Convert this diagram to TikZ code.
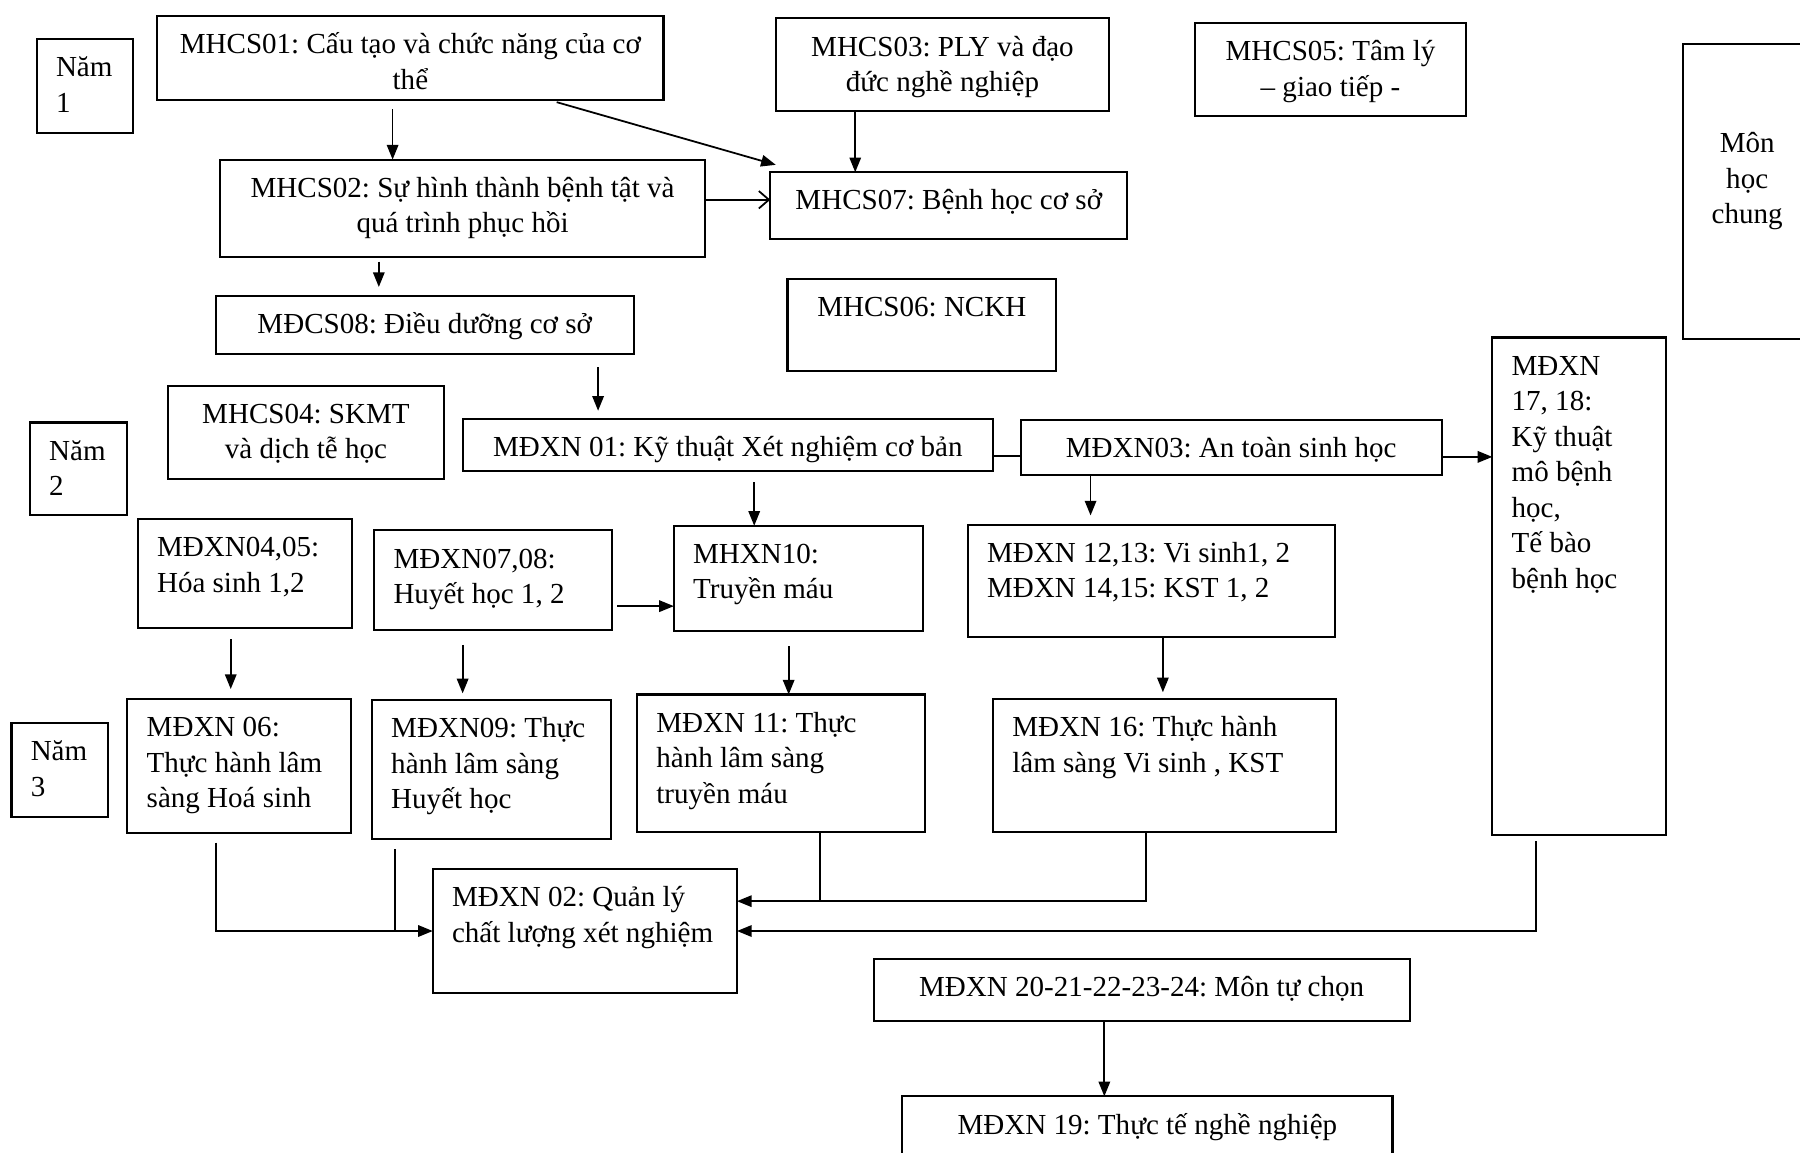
\documentclass[tikz,border=0pt]{standalone}
\usepackage{fontspec}
\setmainfont{Liberation Serif}
\usetikzlibrary{arrows.meta,positioning,calc}
\frenchspacing

% text inside a box: width, height (cm), top aligned
\newcommand{\ctxt}[4][0.28cm]{\parbox[c][#3cm][t]{#2cm}{\centering\vspace*{#1}\strut#4}}
\newcommand{\ltxt}[3]{\parbox[c][#2cm][t]{#1cm}{\raggedright\leftskip=0.42cm\vspace*{0.28cm}\strut#3}}

\begin{document}
\begin{tikzpicture}[
            box/.style={draw, line width=1.3pt, inner sep=0pt, outer sep=0pt, anchor=north west,
                        font=\fontsize{18pt}{22pt}\selectfont},
            arr/.style={line width=1.1pt, -{Triangle[length=0.32cm, width=0.25cm]}},
            link/.style={line width=1.1pt}
        ]
\useasboundingbox (0,0) rectangle (39.2,-25.1);
\clip (0,0) rectangle (39.2,-25.1);

% --- year labels ---
            \node[box] (nam1) at (0.80,-0.85) {\ltxt{2.10}{2.05}{Năm\\1}};
            \node[box] (nam2) at (0.65,-9.20) {\ltxt{2.125}{2.025}{Năm\\2}};
            \node[box] (nam3) at (0.25,-15.75) {\ltxt{2.10}{2.05}{Năm\\3}};

% --- year 1 ---
            \node[box] (mhcs01) at (3.425,-0.35) {\ctxt{11.025}{1.825}{MHCS01: Cấu tạo và chức năng của cơ\\thể}};
            \node[box] (mhcs03) at (16.90,-0.40) {\ctxt{7.25}{2.025}{MHCS03: PLY và đạo\\đức nghề nghiệp}};
            \node[box] (mhcs05) at (26.025,-0.50) {\ctxt{5.90}{2.025}{MHCS05: Tâm lý\\– giao tiếp -}};
            \node[box] (chung) at (36.65,-0.95) {\ctxt[1.83cm]{2.80}{6.425}{Môn\\học\\chung}};
            \node[box] (mhcs02) at (4.80,-3.475) {\ctxt{10.55}{2.125}{MHCS02: Sự hình thành bệnh tật và\\quá trình phục hồi}};
            \node[box] (mhcs07) at (16.775,-3.75) {\ctxt{7.775}{1.45}{MHCS07: Bệnh học cơ sở}};
            \node[box] (mdcs08) at (4.70,-6.45) {\ctxt{9.10}{1.25}{MĐCS08: Điều dưỡng cơ sở}};
            \node[box] (mhcs06) at (17.15,-6.075) {\ctxt{5.85}{2.00}{MHCS06: NCKH}};

% --- year 2 ---
            \node[box] (mhcs04) at (3.65,-8.40) {\ctxt{6.025}{2.025}{MHCS04: SKMT\\và dịch tễ học}};
            \node[box] (mdxn01) at (10.075,-9.125) {\ctxt{11.55}{1.125}{MĐXN 01: Kỹ thuật Xét nghiệm cơ bản}};
            \node[box] (mdxn03) at (22.225,-9.15) {\ctxt{9.175}{1.20}{MĐXN03: An toàn sinh học}};
            \node[box] (mdxn1718) at (32.50,-7.35) {\ltxt{3.775}{10.825}{MĐXN\\17, 18:\\Kỹ thuật\\mô bệnh\\học,\\Tế bào\\bệnh học}};
            \node[box] (mdxn0405) at (3.00,-11.30) {\ltxt{4.675}{2.375}{MĐXN04,05:\\Hóa sinh 1,2}};
            \node[box] (mdxn0708) at (8.15,-11.55) {\ltxt{5.175}{2.175}{MĐXN07,08:\\Huyết học 1, 2}};
            \node[box] (mhxn10) at (14.675,-11.45) {\ltxt{5.425}{2.30}{MHXN10:\\Truyền máu}};
            \node[box] (mdxn1213) at (21.075,-11.425) {\ltxt{8.00}{2.45}{MĐXN 12,13: Vi sinh1, 2\\MĐXN 14,15: KST 1, 2}};

% --- year 3 ---
            \node[box] (mdxn06) at (2.775,-15.225) {\ltxt{4.875}{2.925}{MĐXN 06:\\Thực hành lâm\\sàng Hoá sinh}};
            \node[box] (mdxn09) at (8.10,-15.25) {\ltxt{5.20}{3.025}{MĐXN09: Thực\\hành lâm sàng\\Huyết học}};
            \node[box] (mdxn11) at (13.875,-15.125) {\ltxt{6.275}{3.00}{MĐXN 11: Thực\\hành lâm sàng\\truyền máu}};
            \node[box] (mdxn16) at (21.625,-15.225) {\ltxt{7.475}{2.90}{MĐXN 16: Thực hành\\lâm sàng Vi sinh , KST}};
            \node[box] (mdxn02) at (9.425,-18.925) {\ltxt{6.625}{2.70}{MĐXN 02: Quản lý\\chất lượng xét nghiệm}};
            \node[box] (mdxn20) at (19.025,-20.875) {\ctxt{11.675}{1.35}{MĐXN 20-21-22-23-24: Môn tự chọn}};
            \node[box] (mdxn19) at (19.65,-23.875) {\ctxt{10.675}{1.50}{MĐXN 19: Thực tế nghề nghiệp}};

% --- year 1 links ---
            \draw[arr, shorten <=0.2cm] (mhcs01.south -| 8.55,0) -- (mhcs02.north -| 8.55,0);
            \draw[arr, shorten <=0.18cm] (mhcs01.south -| 11.95,0) -- ([shift={(0.12,0.16)}]mhcs07.north west);
            \draw[arr] (mhcs03.south -| 18.625,0) -- (mhcs07.north -| 18.625,0);
            \draw[link, -{Straight Barb[length=0.22cm, width=0.38cm]}] (mhcs02.east |- 0,-4.35) -- (mhcs07.west |- 0,-4.35);
            \draw[arr, shorten <=0.1cm, shorten >=0.2cm] (mhcs02.south -| 8.25,0) -- (mdcs08.north -| 8.25,0);

% --- year 2 links ---
            \draw[arr, shorten <=0.3cm, shorten >=0.18cm] (mdcs08.south -| 13.025,0) -- (mdxn01.north -| 13.025,0);
            \draw[link] (mdxn01.east |- 0,-9.925) -- (mdxn03.west |- 0,-9.925);
            \draw[arr] (mdxn03.east |- 0,-9.95) -- (mdxn1718.west |- 0,-9.95);
            \draw[arr, shorten <=0.25cm] (mdxn01.south -| 16.425,0) -- (mhxn10.north -| 16.425,0);
            \draw[arr, shorten >=0.2cm] (mdxn03.south -| 23.75,0) -- (mdxn1213.north -| 23.75,0);
            \draw[arr, shorten <=0.12cm] (mdxn0708.east |- 0,-13.2) -- (mhxn10.west |- 0,-13.2);
            \draw[arr, shorten <=0.25cm, shorten >=0.22cm] (mdxn0405.south -| 5.025,0) -- (mdxn06.north -| 5.025,0);
            \draw[arr, shorten <=0.32cm, shorten >=0.15cm] (mdxn0708.south -| 10.075,0) -- (mdxn09.north -| 10.075,0);
            \draw[arr, shorten <=0.32cm] (mhxn10.south -| 17.175,0) -- (mdxn11.north -| 17.175,0);
            \draw[arr, shorten >=0.15cm] (mdxn1213.south -| 25.325,0) -- (mdxn16.north -| 25.325,0);

% --- into MĐXN 02 ---
            \coordinate (inR) at (16.05,-19.625);
            \draw[arr, shorten <=0.2cm] (mdxn06.south -| 4.7,0) |- (mdxn02.west);
            \draw[link, shorten <=0.22cm] (mdxn09.south -| 8.6,0) -- (mdxn02.west -| 8.6,0);
            \draw[arr] (mdxn16.south -| 24.95,0) |- (inR);
            \draw[link] (mdxn11.south -| 17.85,0) -- (inR -| 17.85,0);
            \draw[arr, shorten <=0.15cm] (mdxn1718.south -| 33.45,0) |- (mdxn02.east);

            \draw[arr] (mdxn20.south -| 24.05,0) -- (mdxn19.north -| 24.05,0);

        \end{tikzpicture}
\end{document}
